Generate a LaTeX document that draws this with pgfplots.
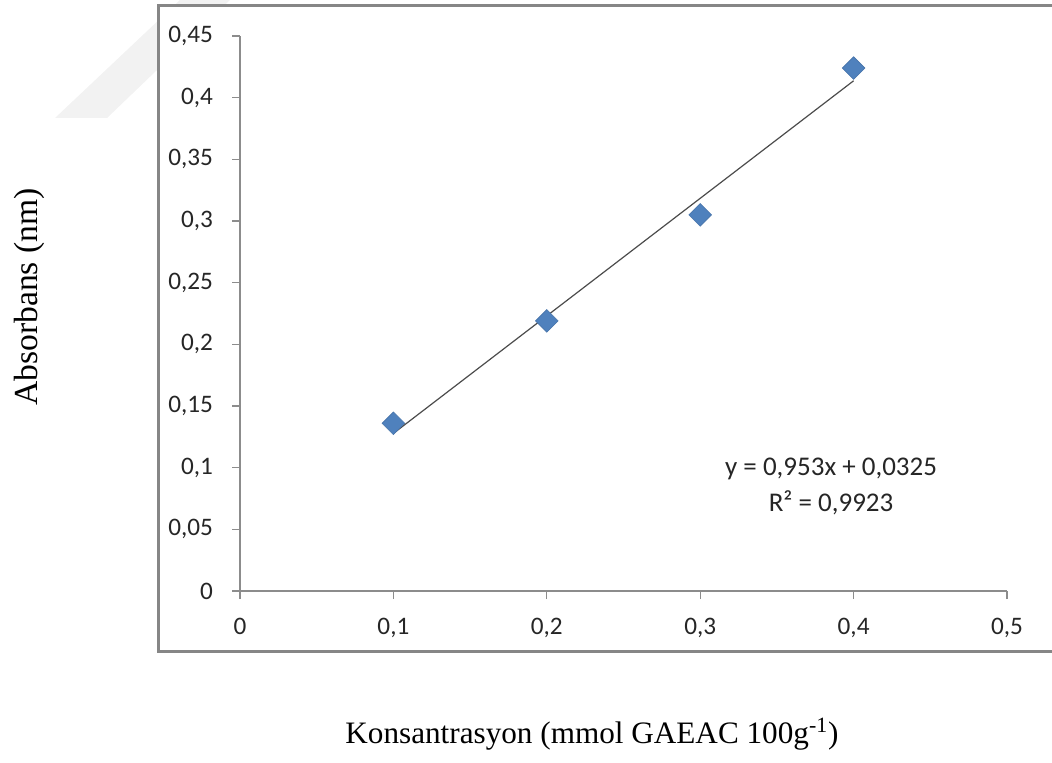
\documentclass[border=0pt]{standalone}
\usepackage{pgfplots}
\pgfplotsset{compat=1.18}
\usepackage{fontspec}
\setmainfont{Liberation Serif}
\newfontfamily\calibri{Carlito}
\definecolor{xlblue}{HTML}{4F81BD}
\definecolor{xlframe}{HTML}{868686}
\definecolor{xlaxis}{HTML}{8C8C8C}

\begin{document}
\begin{tikzpicture}
\useasboundingbox (0,0) rectangle (526pt,381pt);
% faint watermark band behind the chart
\fill[black!5] (27.5pt,322pt) -- (53.5pt,322pt) -- (115pt,381pt) -- (90pt,381pt) -- cycle;
% chart frame
\draw[xlframe, line width=1.5pt, fill=white] (79pt,55.5pt) rectangle (528pt,378pt);
\begin{axis}[
  at={(120pt,85.5pt)}, anchor=south west,
  scale only axis, width=383.5pt, height=277.5pt,
  xmin=0, xmax=0.5, ymin=0, ymax=0.45,
  xtick={0,0.1,...,0.5}, ytick={0,0.05,...,0.45},
  axis x line=bottom, axis y line=left,
  axis line style={-, xlaxis, line width=0.6pt},
  tick style={xlaxis, line width=0.6pt},
  tick align=outside, major tick length=4pt,
  ticklabel style={font=\calibri\fontsize{12.6}{14}\selectfont, text=black!85},
  xticklabel style={yshift=-6pt},
  yticklabel style={xshift=-6pt},
  /pgf/number format/.cd, use comma, assume math mode=true, fixed, precision=2,
  /pgfplots/.cd,
  yticklabel={\pgfmathprintnumber[fixed,precision=2,use comma]{\tick}},
  clip=false,
]
\addplot[black!70, line width=0.6pt] coordinates {(0.1,0.1278) (0.4,0.4137)};
\addplot[only marks, mark=square*, mark size=4pt,
  mark options={rotate=45, fill=xlblue, draw=xlblue!90!black, line width=0.3pt}]
  coordinates {(0.1,0.136) (0.2,0.219) (0.3,0.305) (0.4,0.424)};
\node[font=\calibri\fontsize{13.5}{15}\selectfont, text=black!85] at (axis cs:0.3853,0.0989) {y = 0,953x + 0,0325};
\node[font=\calibri\fontsize{13.5}{15}\selectfont, text=black!85] at (axis cs:0.3853,0.0714) {R² = 0,9923};
\end{axis}
\node[anchor=base, font=\fontsize{15.6}{19}\selectfont] at (296pt,9.5pt) {Konsantrasyon (mmol GAEAC 100g\textsuperscript{-1})};
\node[anchor=base, rotate=90, font=\fontsize{16.8}{19}\selectfont] at (18.5pt,232.5pt) {Absorbans (nm)};
\end{tikzpicture}
\end{document}
